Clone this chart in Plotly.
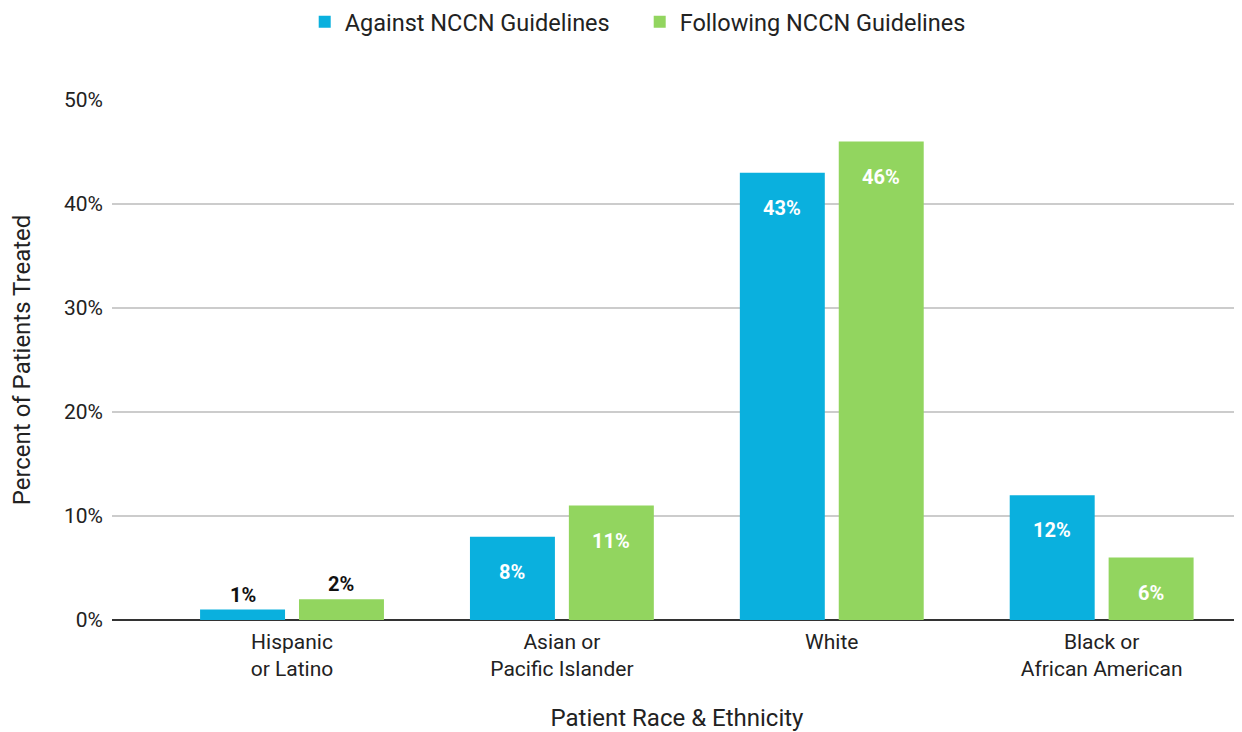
import plotly.graph_objects as go

categories = ["Hispanic<br>or Latino", "Asian or<br>Pacific Islander", "White", "Black or<br>African American"]
against = [1, 8, 43, 12]
following = [2, 11, 46, 6]
series_names = ["Against NCCN Guidelines", "Following NCCN Guidelines"]
colors = ["#0AB0DE", "#92D55F"]
y_ticks = [0, 10, 20, 30, 40, 50]

FONT = "Roboto"
fig = go.Figure()
for name, vals, col in zip(series_names, [against, following], colors):
    fig.add_trace(go.Bar(x=list(range(len(categories))), y=vals, name=name, marker_color=col,
                         marker_line_width=0))

bargap = 0.267
bargroupgap = 0.141
slot = (1 - bargap) / 2
annotations = []
for si, vals in enumerate([against, following]):
    off = (si - 0.5) * slot
    for i, v in enumerate(vals):
        inside = v >= 5
        annotations.append(dict(
            x=i + off, y=v, xref="x", yref="y", text=f"<b>{v}%</b>", showarrow=False,
            yanchor="middle" if inside else "bottom", yshift=-35 if inside else 1,
            font=dict(family=FONT, size=20, color="white" if inside else "#111111")))

fig.update_layout(
    width=1242, height=732,
    margin=dict(l=104, r=8, t=92, b=120, autoexpand=False),
    paper_bgcolor="white", plot_bgcolor="white",
    barmode="group", bargap=bargap, bargroupgap=bargroupgap,
    font=dict(family=FONT, size=20, color="#222222"),
    legend=dict(orientation="h", x=0.467, xanchor="center", y=1.15, yanchor="middle",
                font=dict(size=23.5, color="#222222"), itemwidth=30, traceorder="normal",
                entrywidth=290),
    annotations=annotations,
    xaxis=dict(tickmode="array", tickvals=list(range(len(categories))), ticktext=categories,
               range=[-0.667, 3.52], showgrid=False, showline=False, ticks="", automargin=False,
               tickfont=dict(size=21, color="#222222"), ticklabelstandoff=7,
               title=dict(text="Patient Race & Ethnicity", font=dict(size=24, color="#222222"), standoff=28)),
    yaxis=dict(range=[0, 50], tickvals=y_ticks, ticktext=[f"{t}%" for t in y_ticks], automargin=False,
               showgrid=True, gridcolor="#CCCCCC", gridwidth=1.5, zeroline=True, zerolinecolor="#333333",
               zerolinewidth=2, ticks="", tickfont=dict(size=21, color="#222222"), ticklabelstandoff=8,
               title=dict(text="Percent of Patients Treated", font=dict(size=24, color="#222222"), standoff=27)),
)
fig.write_html("out.html")
